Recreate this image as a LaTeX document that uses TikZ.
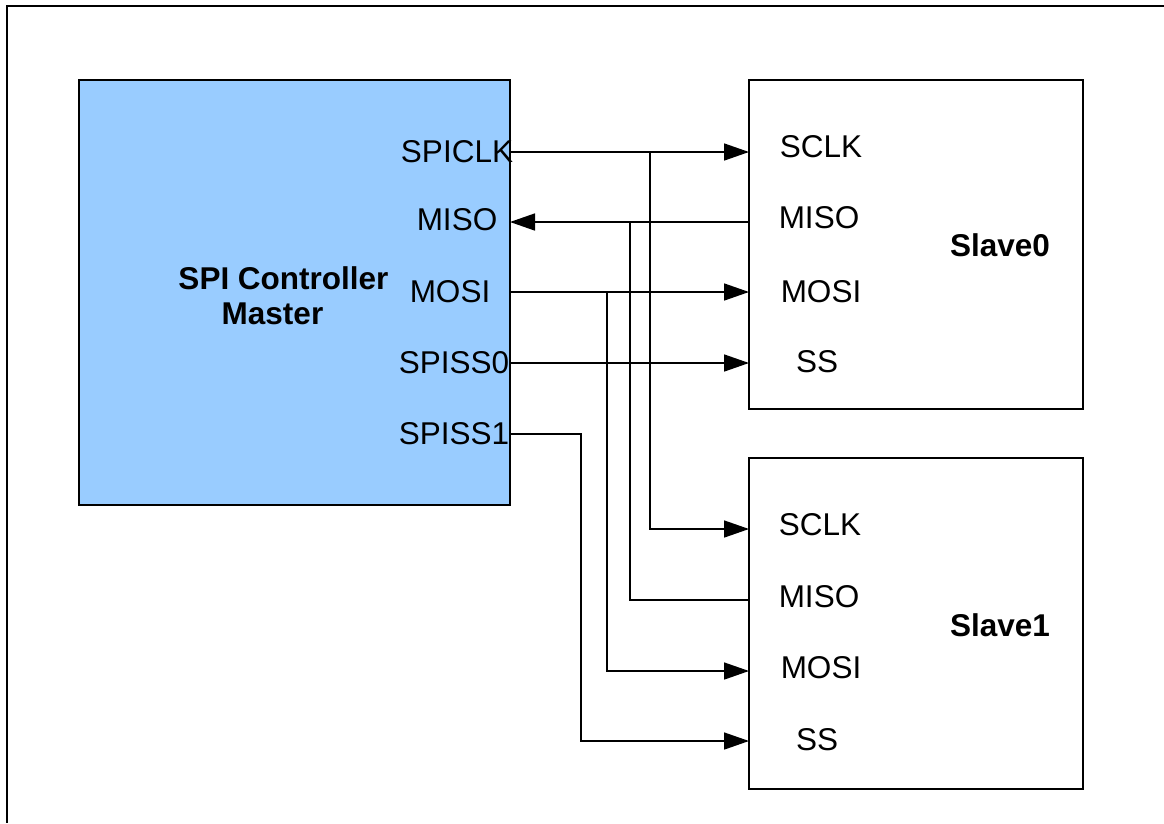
\documentclass[tikz,border=0pt]{standalone}
\usepackage{fontspec}
\setmainfont{Liberation Sans}
\usetikzlibrary{arrows.meta}
\definecolor{masterblue}{RGB}{153,204,255}
\begin{document}
\begin{tikzpicture}[x=1pt,y=-1pt,
  blockbox/.style={draw=black,line width=1.9pt,inner sep=0pt,outer sep=0pt},
  pinlbl/.style={font=\fontsize{31.5}{36}\selectfont,inner sep=0pt,anchor=center},
  titlelbl/.style={font=\fontsize{31.5}{36}\selectfont\bfseries,inner sep=0pt,anchor=center},
  wire/.style={line width=1.6pt},
  arr/.style={wire,-{Triangle[length=25pt,width=17pt]}}]
\useasboundingbox (0,0) rectangle (1164,823);
% outer frame (top and left visible)
\draw[line width=2.8pt] (1164,6) -- (7,6) -- (7,823);
% blocks
\node[blockbox,fill=masterblue,minimum width=431pt,minimum height=425pt] (master) at (294.5,292.5) {};
\node[blockbox,fill=white,minimum width=334pt,minimum height=329pt] (slave0) at (916,244.5) {};
\node[blockbox,fill=white,minimum width=334pt,minimum height=331pt] (slave1) at (916,623.5) {};
% titles
\node[titlelbl] (mt1) at (283.5,278) {SPI Controller};
\node[titlelbl] (mt2) at (272.5,314) {Master};
\node[titlelbl] (s0t) at (1000,245) {Slave0};
\node[titlelbl] (s1t) at (1000,625) {Slave1};
% master pin labels
\node[pinlbl] (lm1) at (457,152) {SPICLK};
\node[pinlbl] (lm2) at (457,220) {MISO};
\node[pinlbl] (lm3) at (450,292) {MOSI};
\node[pinlbl] (lm4) at (454,363) {SPISS0};
\node[pinlbl] (lm5) at (454,434) {SPISS1};
% slave0 pin labels
\node[pinlbl] (la1) at (821,147) {SCLK};
\node[pinlbl] (la2) at (819,218) {MISO};
\node[pinlbl] (la3) at (821,292) {MOSI};
\node[pinlbl] (la4) at (817,362) {SS};
% slave1 pin labels
\node[pinlbl] (lb1) at (820,525) {SCLK};
\node[pinlbl] (lb2) at (819,597) {MISO};
\node[pinlbl] (lb3) at (821,668) {MOSI};
\node[pinlbl] (lb4) at (817,740) {SS};
% pin coordinates
\coordinate (m-clk) at (510,152);
\coordinate (m-miso) at (510,222);
\coordinate (m-mosi) at (510,292);
\coordinate (m-ss0) at (510,363);
\coordinate (m-ss1) at (510,434);
\coordinate (s0-clk) at (749,152);
\coordinate (s0-miso) at (749,222);
\coordinate (s0-mosi) at (749,292);
\coordinate (s0-ss) at (749,363);
\coordinate (s1-clk) at (749,529);
\coordinate (s1-miso) at (749,600);
\coordinate (s1-mosi) at (749,671);
\coordinate (s1-ss) at (749,741);
\coordinate (j-clk) at (650,152);
\coordinate (j-miso) at (630,222);
\coordinate (j-mosi) at (607,292);
\coordinate (k-ss1) at (581,434);
% connectors
\draw[arr] (m-clk) -- (s0-clk);
\draw[arr] (j-clk) |- (s1-clk);
\draw[arr] (s0-miso) -- (m-miso);
\draw[wire] (s1-miso) -| (j-miso);
\draw[arr] (m-mosi) -- (s0-mosi);
\draw[arr] (j-mosi) |- (s1-mosi);
\draw[arr] (m-ss0) -- (s0-ss);
\draw[arr] (m-ss1) -- (k-ss1) |- (s1-ss);
\end{tikzpicture}
\end{document}
